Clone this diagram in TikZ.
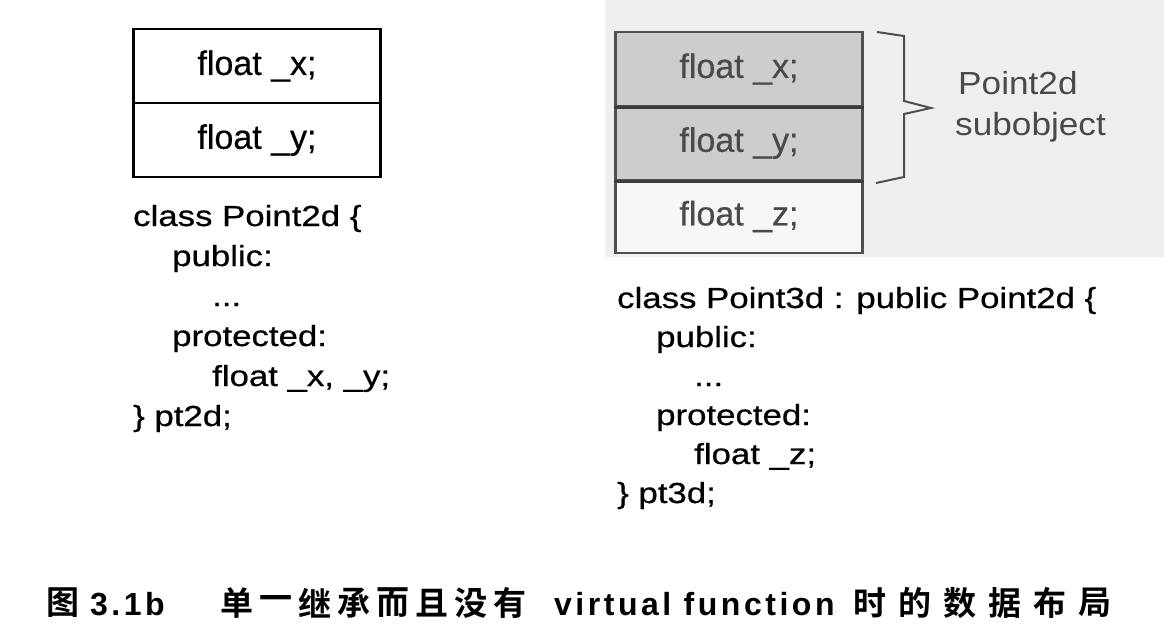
\documentclass[tikz,border=0pt]{standalone}
\usepackage{fontspec}
\setmainfont{Liberation Sans}
\newfontfamily\codefont[FakeStretch=1.2,FakeBold=0.6]{Liberation Sans}
\newfontfamily\boxfont[FakeBold=0.5]{Liberation Sans}
\newfontfamily\labfont[FakeStretch=1.1]{Liberation Sans}
\newfontfamily\capfont[LetterSpace=11]{Liberation Sans}
\newfontfamily\cjk{Noto Sans CJK SC}[UprightFont={* Bold}]
\definecolor{bgray}{HTML}{EFEFEF}
\definecolor{cellgray}{HTML}{CDCDCD}
\definecolor{cellwhite}{HTML}{F7F7F7}
\definecolor{linegray}{HTML}{505050}
\definecolor{sepgray}{HTML}{3C3C3C}
\definecolor{textgray}{HTML}{4A4A4A}
\begin{document}
\begin{tikzpicture}[x=1pt,y=-1pt,
  cell/.style={draw=black,line width=2.4pt,fill=white,minimum width=247pt,
    minimum height=74pt,inner sep=0pt,font=\boxfont\fontsize{34}{34}\selectfont},
  gcell/.style={cell,draw=linegray,fill=cellgray,text=textgray},
  wcell/.style={cell,draw=linegray,fill=cellwhite,text=textgray},
  sepline/.style={draw=sepgray,line width=3pt},
  code/.style={anchor=base west,inner sep=0pt,font=\codefont\fontsize{29}{29}\selectfont},
  lab/.style={anchor=base west,inner sep=0pt,text=textgray,font=\labfont\fontsize{32}{32}\selectfont},
  capl/.style={anchor=base west,inner sep=0pt,font=\capfont\bfseries\fontsize{32}{32}\selectfont},
  capc/.style={anchor=center,inner sep=0pt,font=\cjk\fontsize{33}{33}\selectfont}]
\useasboundingbox (0,0) rectangle (1164,637);
\fill[white] (0,0) rectangle (1164,637);
% right background
\fill[bgray] (605,0) rectangle (1164,257);

% left object layout
\node[cell] (lx) at (257,66) {float \_x;};
\node[cell] (ly) at (257,140) {float \_y;};

% left class code
\node[code] (l1) at (133,226) {class Point2d \{};
\node[code] (l2) at (172,266) {public:};
\node[code] (l3) at (212,306) {...};
\node[code] (l4) at (172,346) {protected:};
\node[code] (l5) at (212,386) {float \_x, \_y;};
\node[code] (l6) at (133,426) {\} pt2d;};

% right object layout
\node[gcell] (rx) at (739,69) {float \_x;};
\node[gcell] (ry) at (739,143) {float \_y;};
\node[wcell,minimum height=73pt] (rz) at (739,216.5) {float \_z;};
\draw[sepline] (rx.south west) -- (rx.south east);
\draw[sepline] (ry.south west) -- (ry.south east);

% brace
\draw[linegray,line width=2pt,line join=miter]
  (877,32) -- (904,36) -- (904,101) -- (931,108) -- (904,114) -- (904,177) -- (876,183);
\node[lab] (p1) at (958,94) {Point2d};
\node[lab] (p2) at (955,135) {subobject};

% right class code
\node[code] (r1) at (617,308) {class Point3d : public Point2d \{};
\node[code] (r2) at (656,347) {public:};
\node[code] (r3) at (694,386) {...};
\node[code] (r4) at (656,425) {protected:};
\node[code] (r5) at (694,464) {float \_z;};
\node[code] (r6) at (617,503) {\} pt3d;};

% caption
\node[capc] (c0) at (63,603) {图};
\node[capl] (c1) at (90,615) {3.1b};
\foreach \ch [count=\i from 0] in {单,一,继,承,而,且,没,有}
  \node[capc] (ca\i) at (237+39*\i,603) {\ch};
\node[capl] (c2) at (554,615) {virtual function};
\foreach \ch [count=\i from 0] in {时,的,数,据,布,局}
  \node[capc] (cb\i) at (870+45*\i,603) {\ch};
\end{tikzpicture}
\end{document}
